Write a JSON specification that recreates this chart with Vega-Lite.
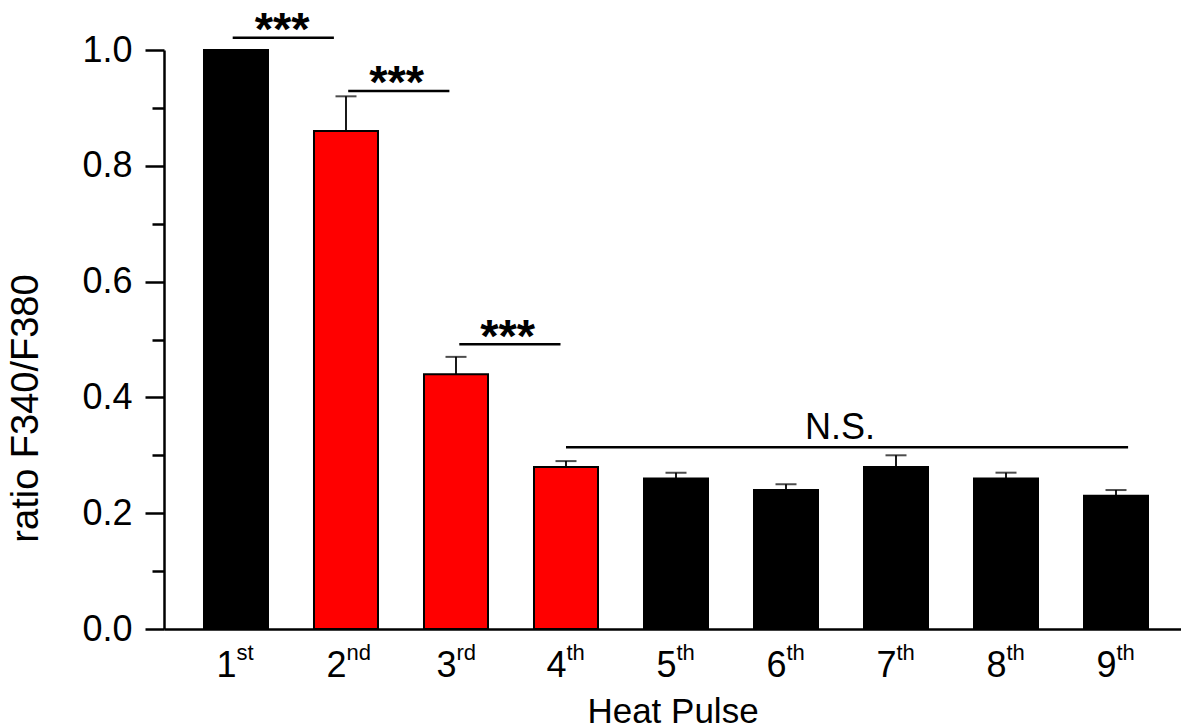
{
  "$schema": "https://vega.github.io/schema/vega-lite/v6.json",
  "width": 1017,
  "height": 579,
  "autosize": {"type": "none"},
  "padding": {"left": 164, "top": 50, "right": 0, "bottom": 99},
  "background": "white",
  "config": {
    "view": {"stroke": null},
    "font": "Liberation Sans",
    "axis": {
      "labelFont": "Liberation Sans",
      "titleFont": "Liberation Sans",
      "labelColor": "black",
      "titleColor": "black",
      "domainColor": "black",
      "tickColor": "black",
      "titleFontWeight": "normal",
      "grid": false
    }
  },
  "datasets": {
    "bars": [
      {"pulse": 1, "ratio": 1.0, "upper": null, "phase": "baseline"},
      {"pulse": 2, "ratio": 0.86, "upper": 0.92, "phase": "decline"},
      {"pulse": 3, "ratio": 0.44, "upper": 0.47, "phase": "decline"},
      {"pulse": 4, "ratio": 0.28, "upper": 0.29, "phase": "decline"},
      {"pulse": 5, "ratio": 0.26, "upper": 0.27, "phase": "plateau"},
      {"pulse": 6, "ratio": 0.24, "upper": 0.25, "phase": "plateau"},
      {"pulse": 7, "ratio": 0.28, "upper": 0.30, "phase": "plateau"},
      {"pulse": 8, "ratio": 0.26, "upper": 0.27, "phase": "plateau"},
      {"pulse": 9, "ratio": 0.23, "upper": 0.24, "phase": "plateau"}
    ],
    "sig": [
      {"x1": 0.97, "x2": 1.89, "y": 1.021, "label": "***", "tx": 1.42, "ty": 1.009},
      {"x1": 2.02, "x2": 2.94, "y": 0.929, "label": "***", "tx": 2.46, "ty": 0.917},
      {"x1": 3.03, "x2": 3.95, "y": 0.492, "label": "***", "tx": 3.47, "ty": 0.479},
      {"x1": 4.0, "x2": 9.11, "y": 0.314, "label": "N.S.", "tx": 6.49, "ty": 0.328}
    ]
  },
  "layer": [
    {
      "data": {"name": "bars"},
      "mark": {"type": "bar", "orient": "vertical", "width": 64, "stroke": "black", "strokeWidth": 2},
      "encoding": {
        "x": {
          "field": "pulse", "type": "quantitative",
          "scale": {"domain": [0.3455, 9.5909], "nice": false, "zero": false, "padding": 0},
          "axis": {
            "orient": "bottom",
            "title": "Heat Pulse", "values": [1, 2, 3, 4, 5, 6, 7, 8, 9], "format": "d",
            "labelAlign": "right", "labelDx": -2, "labelFontSize": 36, "labelPadding": 19,
            "tickSize": 0, "domainWidth": 2.5, "titleFontSize": 35, "titlePadding": 11,
            "labelFlush": false, "labelOverlap": false
          }
        },
        "y": {
          "field": "ratio", "type": "quantitative",
          "scale": {"domain": [0, 1], "nice": false, "padding": 0},
          "axis": {
            "orient": "left",
            "title": "ratio F340/F380", "values": [0, 0.2, 0.4, 0.6, 0.8, 1.0], "format": ".1f",
            "labelFontSize": 36, "tickSize": 19, "tickWidth": 2.5, "domainWidth": 2.5,
            "labelPadding": 13, "titleFontSize": 38, "titlePadding": 36, "titleY": 358,
            "labelFlush": false, "labelOverlap": false
          }
        },
        "color": {
          "field": "phase", "type": "nominal",
          "scale": {"domain": ["baseline", "decline", "plateau"], "range": ["#000000", "#ff0000", "#000000"]},
          "legend": null
        }
      }
    },
    {
      "data": {"name": "bars"},
      "transform": [{"filter": "datum.upper != null"}],
      "mark": {"type": "rule", "color": "black", "strokeWidth": 1.8},
      "encoding": {
        "x": {
          "field": "pulse", "type": "quantitative",
          "scale": {"domain": [0.3455, 9.5909], "nice": false, "zero": false, "padding": 0},
          "axis": {
            "orient": "bottom",
            "title": null, "values": [1, 2, 3, 4, 5, 6, 7, 8, 9],
            "labelExpr": "datum.value == 1 ? 'st' : datum.value == 2 ? 'nd' : datum.value == 3 ? 'rd' : 'th'",
            "labelAlign": "left", "labelDx": 0, "labelFontSize": 22, "labelPadding": 13,
            "tickSize": 0, "domain": false, "labelFlush": false, "labelOverlap": false
          }
        },
        "y": {
          "field": "ratio", "type": "quantitative",
          "scale": {"domain": [0, 1], "nice": false, "padding": 0},
          "axis": {
            "orient": "left",
            "title": null, "values": [0.1, 0.3, 0.5, 0.7, 0.9], "labels": false,
            "domain": false, "tickSize": 12, "tickWidth": 2.5
          }
        },
        "y2": {"field": "upper"}
      }
    },
    {
      "data": {"name": "bars"},
      "transform": [{"filter": "datum.upper != null"}],
      "mark": {"type": "tick", "orient": "horizontal", "size": 21, "thickness": 2, "color": "black"},
      "encoding": {
        "x": {"field": "pulse", "type": "quantitative", "scale": {"domain": [0.3455, 9.5909], "nice": false, "zero": false, "padding": 0}, "axis": null},
        "y": {"field": "upper", "type": "quantitative", "scale": {"domain": [0, 1], "nice": false, "padding": 0}, "axis": null}
      }
    },
    {
      "data": {"name": "sig"},
      "mark": {"type": "rule", "color": "black", "strokeWidth": 2.5},
      "encoding": {
        "x": {"field": "x1", "type": "quantitative", "scale": {"domain": [0.3455, 9.5909], "nice": false, "zero": false, "padding": 0}, "axis": null},
        "x2": {"field": "x2"},
        "y": {"field": "y", "type": "quantitative", "scale": {"domain": [0, 1], "nice": false, "padding": 0}, "axis": null}
      }
    },
    {
      "data": {"name": "sig"},
      "transform": [{"filter": "datum.label == '***'"}],
      "mark": {"type": "text", "fontSize": 47, "fontWeight": "bold", "align": "center", "baseline": "alphabetic", "color": "black"},
      "encoding": {
        "x": {"field": "tx", "type": "quantitative", "scale": {"domain": [0.3455, 9.5909], "nice": false, "zero": false, "padding": 0}, "axis": null},
        "y": {"field": "ty", "type": "quantitative", "scale": {"domain": [0, 1], "nice": false, "padding": 0}, "axis": null},
        "text": {"field": "label"}
      }
    },
    {
      "data": {"name": "sig"},
      "transform": [{"filter": "datum.label == 'N.S.'"}],
      "mark": {"type": "text", "fontSize": 36, "align": "center", "baseline": "alphabetic", "color": "black"},
      "encoding": {
        "x": {"field": "tx", "type": "quantitative", "scale": {"domain": [0.3455, 9.5909], "nice": false, "zero": false, "padding": 0}, "axis": null},
        "y": {"field": "ty", "type": "quantitative", "scale": {"domain": [0, 1], "nice": false, "padding": 0}, "axis": null},
        "text": {"field": "label"}
      }
    }
  ],
  "resolve": {"axis": {"x": "independent", "y": "independent"}}
}
